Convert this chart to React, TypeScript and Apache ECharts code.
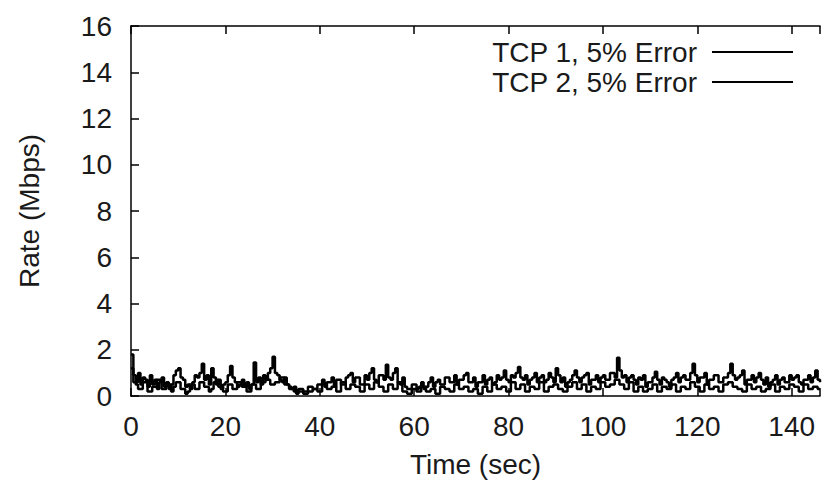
import React, { useEffect, useRef } from "react";
import * as echarts from "echarts";

// Sampling interval of both traces (seconds)
const SAMPLE_INTERVAL = 0.5;

const seriesNames = ["TCP 1, 5% Error", "TCP 2, 5% Error"];

// TCP 1 rate (Mbps), one value per half second from t = 0
const tcp1 = [
  1.8, 0.9, 0.6, 1.0, 0.5, 0.8, 0.7, 0.4, 0.9, 0.5,
  0.7, 0.3, 0.6, 0.8, 0.4, 0.6, 0.3, 0.5, 0.9, 1.1,
  1.2, 0.8, 0.7, 0.4, 0.5, 0.3, 0.6, 0.9, 0.8, 1.0,
  1.4, 0.7, 0.9, 0.5, 1.2, 0.8, 0.5, 0.7, 0.3, 0.5,
  0.6, 0.9, 1.3, 0.8, 0.6, 0.4, 0.5, 0.7, 0.4, 0.6,
  0.3, 0.5, 1.45, 0.6, 0.8, 0.5, 0.9, 0.7, 1.0, 1.2,
  1.7, 1.0, 0.9, 0.7, 0.6, 0.8, 0.5, 0.4, 0.3, 0.4,
  0.2, 0.3, 0.3, 0.2, 0.2, 0.4, 0.4, 0.3, 0.3, 0.5,
  0.5, 0.7, 0.4, 0.6, 0.6, 0.8, 0.4, 0.7, 0.7, 0.5,
  0.5, 0.8, 0.9, 1.0, 0.6, 0.8, 0.8, 0.5, 0.5, 0.9,
  0.7, 1.0, 1.2, 0.7, 0.6, 0.9, 0.9, 0.7, 1.35, 0.8,
  0.7, 1.0, 1.2, 0.6, 0.5, 0.8, 0.4, 0.3, 0.3, 0.5,
  0.5, 0.3, 0.4, 0.6, 0.3, 0.4, 0.6, 0.8, 0.4, 0.6,
  0.7, 0.5, 0.5, 0.8, 0.8, 0.6, 0.6, 0.9, 0.5, 0.7,
  0.7, 0.9, 1.0, 0.6, 0.6, 0.8, 0.4, 0.6, 0.6, 0.9,
  0.5, 0.7, 0.8, 0.5, 0.6, 0.9, 0.7, 0.8, 1.1, 0.7,
  0.6, 0.9, 0.8, 1.0, 1.25, 0.8, 0.7, 0.9, 0.5, 0.7,
  0.8, 1.0, 0.6, 0.8, 0.9, 0.6, 0.7, 1.0, 0.8, 0.6,
  1.2, 0.9, 0.6, 0.8, 0.4, 0.6, 0.7, 0.9, 1.1, 0.8,
  0.6, 0.8, 0.9, 1.0, 0.5, 0.7, 0.7, 0.9, 0.6, 0.8,
  0.9, 0.7, 0.7, 1.0, 1.0, 0.8, 1.65, 1.1, 0.8, 0.9,
  0.6, 0.8, 0.9, 0.7, 0.5, 0.8, 0.7, 0.9, 0.4, 0.6,
  0.6, 0.8, 1.05, 0.7, 0.5, 0.8, 0.7, 0.6, 0.4, 0.7,
  0.8, 1.0, 0.6, 0.8, 0.9, 0.7, 0.7, 1.0, 1.4, 0.9,
  0.6, 0.8, 0.8, 1.0, 0.5, 0.7, 0.7, 0.9, 0.9, 0.6,
  0.6, 0.8, 0.8, 1.0, 1.4, 0.9, 0.7, 0.8, 0.9, 1.1,
  0.5, 0.7, 0.7, 0.9, 0.6, 0.8, 1.0, 0.7, 0.5, 0.8,
  0.4, 0.6, 0.7, 0.9, 0.5, 0.7, 0.8, 0.6, 0.6, 0.9,
  0.7, 0.8, 0.9, 0.6, 0.5, 0.7, 0.7, 0.9, 0.6, 0.8,
  1.1, 0.7, 0.6,
];

// TCP 2 rate (Mbps), one value per half second from t = 0
const tcp2 = [
  1.2, 0.6, 0.5, 0.3, 0.3, 0.6, 0.6, 0.2, 0.2, 0.4,
  0.4, 0.7, 0.7, 0.3, 0.3, 0.5, 0.5, 0.2, 0.4, 0.6,
  0.6, 0.3, 0.3, 0.1, 0.2, 0.5, 0.5, 0.3, 0.3, 0.6,
  0.6, 0.4, 0.4, 0.2, 0.3, 0.6, 0.7, 0.4, 0.4, 0.2,
  0.2, 0.5, 0.5, 0.3, 0.3, 0.6, 0.6, 0.4, 0.4, 0.2,
  0.2, 0.5, 0.5, 0.3, 0.3, 0.6, 0.6, 0.8, 0.7, 0.5,
  0.5, 0.6, 0.6, 0.8, 0.8, 0.5, 0.5, 0.3, 0.3, 0.2,
  0.1, 0.2, 0.2, 0.1, 0.1, 0.2, 0.2, 0.3, 0.3, 0.2,
  0.2, 0.5, 0.5, 0.3, 0.3, 0.4, 0.4, 0.2, 0.2, 0.6,
  0.6, 0.3, 0.3, 0.5, 0.5, 0.4, 0.4, 0.2, 0.2, 0.5,
  0.5, 0.3, 0.3, 0.6, 0.6, 0.4, 0.4, 0.2, 0.2, 0.5,
  0.5, 0.3, 0.3, 0.6, 0.6, 0.2, 0.2, 0.1, 0.1, 0.3,
  0.3, 0.2, 0.2, 0.4, 0.4, 0.2, 0.2, 0.3, 0.3, 0.1,
  0.1, 0.4, 0.4, 0.3, 0.3, 0.2, 0.2, 0.5, 0.5, 0.3,
  0.3, 0.4, 0.4, 0.2, 0.2, 0.3, 0.3, 0.1, 0.1, 0.4,
  0.4, 0.2, 0.2, 0.5, 0.5, 0.3, 0.3, 0.4, 0.4, 0.2,
  0.2, 0.6, 0.6, 0.3, 0.3, 0.5, 0.5, 0.2, 0.2, 0.4,
  0.4, 0.3, 0.3, 0.6, 0.6, 0.2, 0.2, 0.4, 0.4, 0.5,
  0.5, 0.3, 0.3, 0.2, 0.2, 0.4, 0.4, 0.6, 0.6, 0.3,
  0.3, 0.5, 0.5, 0.2, 0.2, 0.4, 0.4, 0.3, 0.3, 0.6,
  0.6, 0.4, 0.4, 0.5, 0.5, 0.7, 0.7, 0.5, 0.5, 0.3,
  0.3, 0.6, 0.6, 0.2, 0.2, 0.4, 0.4, 0.2, 0.2, 0.3,
  0.3, 0.5, 0.5, 0.2, 0.2, 0.4, 0.4, 0.3, 0.3, 0.5,
  0.5, 0.2, 0.2, 0.4, 0.4, 0.3, 0.3, 0.6, 0.6, 0.4,
  0.4, 0.2, 0.2, 0.5, 0.5, 0.3, 0.3, 0.4, 0.4, 0.2,
  0.2, 0.5, 0.5, 0.6, 0.6, 0.4, 0.4, 0.3, 0.3, 0.2,
  0.2, 0.5, 0.5, 0.3, 0.3, 0.4, 0.4, 0.2, 0.2, 0.3,
  0.3, 0.5, 0.5, 0.2, 0.2, 0.4, 0.4, 0.3, 0.3, 0.5,
  0.5, 0.4, 0.4, 0.2, 0.2, 0.5, 0.5, 0.3, 0.3, 0.4,
  0.4, 0.3, 0.3,
];

const X_MIN = 0;
const X_MAX = 146;
const Y_MIN = 0;
const Y_MAX = 16;

const FONT = "'Liberation Sans', Arial, sans-serif";
const TEXT = "#1a1a1a";

const toPairs = (vals: number[]) =>
  vals.map((v, i) => [i * SAMPLE_INTERVAL, v]);

export default function App() {
  const ref = useRef<HTMLDivElement>(null);

  useEffect(() => {
    if (!ref.current) return;
    const chart = echarts.init(ref.current, undefined, { renderer: "svg" });
    const axisLine = { show: true, lineStyle: { color: "#000", width: 1.5 } };
    const tick = { show: true, inside: true, length: 8, lineStyle: { color: "#000", width: 1.5 } };
    chart.setOption({
      animation: false,
      backgroundColor: "#fff",
      textStyle: { fontFamily: FONT },
      grid: { left: 131, right: 0, top: 26, bottom: 91, containLabel: false },
      legend: {
        orient: "vertical",
        right: 25,
        top: 33,
        align: "right",
        icon: "rect",
        itemWidth: 81,
        itemHeight: 2,
        itemGap: 2,
        data: seriesNames,
        textStyle: { fontSize: 28, color: TEXT, fontFamily: FONT, padding: [0, 10, 0, 0] },
      },
      xAxis: [
        {
          type: "value",
          position: "bottom",
          min: X_MIN,
          max: X_MAX,
          interval: 20,
          name: "Time (sec)",
          nameLocation: "middle",
          nameGap: 54,
          nameTextStyle: { fontSize: 28, color: TEXT, fontFamily: FONT },
          axisLine,
          axisTick: tick,
          axisLabel: {
            fontSize: 28,
            color: TEXT,
            fontFamily: FONT,
            margin: 16,
            formatter: (v: number) => (v % 20 === 0 ? String(v) : ""),
          },
          splitLine: { show: false },
        },
        {
          type: "value",
          position: "top",
          min: X_MIN,
          max: X_MAX,
          interval: 20,
          axisLine,
          axisTick: tick,
          axisLabel: { show: false },
          splitLine: { show: false },
        },
      ],
      yAxis: {
        type: "value",
        min: Y_MIN,
        max: Y_MAX,
        interval: 2,
        name: "Rate (Mbps)",
        nameLocation: "middle",
        nameGap: 88,
        nameTextStyle: { fontSize: 28, color: TEXT, fontFamily: FONT },
        axisLine,
        axisTick: tick,
        axisLabel: { fontSize: 28, color: TEXT, fontFamily: FONT, margin: 19 },
        splitLine: { show: false },
      },
      series: [
        {
          name: seriesNames[0],
          type: "line",
          step: "end",
          showSymbol: false,
          data: toPairs(tcp1),
          lineStyle: { color: "#000", width: 2.5 },
          itemStyle: { color: "#000" },
        },
        {
          name: seriesNames[1],
          type: "line",
          step: "end",
          showSymbol: false,
          data: toPairs(tcp2),
          lineStyle: { color: "#000", width: 2.5 },
          itemStyle: { color: "#000" },
        },
      ],
    });
    return () => chart.dispose();
  }, []);

  return (
    <div
      ref={ref}
      style={{ position: "fixed", left: 0, top: 0, width: 823, height: 487, background: "#fff" }}
    />
  );
}
